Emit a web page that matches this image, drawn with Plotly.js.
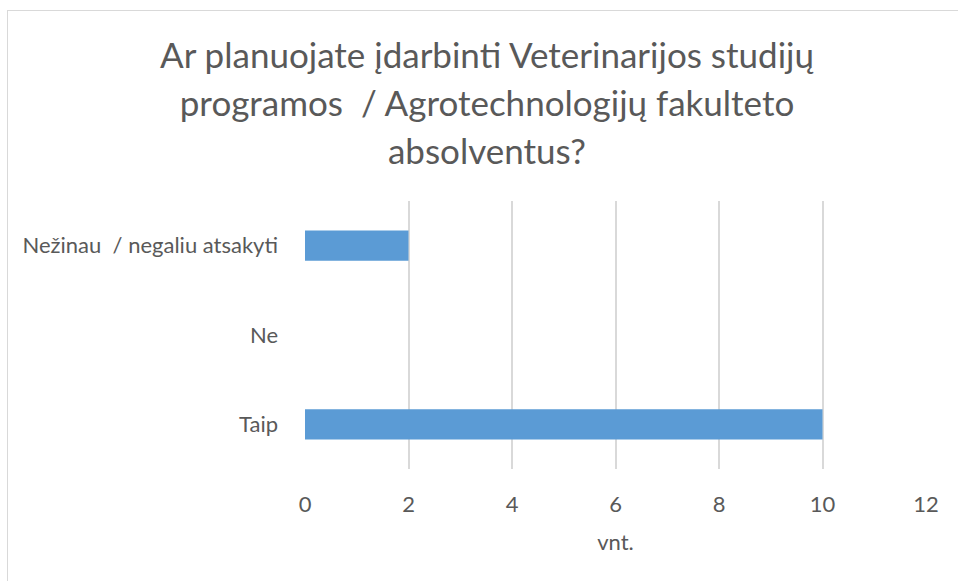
<!DOCTYPE html>
<html>
<head>
<meta charset="utf-8">
<script src="https://cdn.plot.ly/plotly-3.0.1.min.js"></script>
<style>
    body { margin: 0; background: #fff; }
    #frame {
        position: absolute; left: 7px; top: 10px; width: 1000px; height: 620px;
        border-left: 1px solid #d9d9d9; border-top: 1px solid #d9d9d9;
    }
    #chart { position: absolute; left: 0; top: 0; width: 958px; height: 581px; }
</style>
</head>
<body>
<div id="frame"></div>
<div id="chart"></div>

<script>
    // survey answers (count of respondents)
    var categories = ['Taip', 'Ne', 'Nežinau  / negaliu atsakyti'];
    var values = [10, 0, 2];
    var tickValues = [0, 2, 4, 6, 8, 10, 12];
    var titleLines = [
        'Ar planuojate įdarbinti Veterinarijos studijų',
        'programos  / Agrotechnologijų fakulteto',
        'absolventus?'
    ];

    function createChart() {
        var trace = {
            type: 'bar',
            orientation: 'h',
            y: categories,
            x: values,
            marker: { color: '#5b9bd5' },
            hoverinfo: 'x+y'
        };

        var layout = {
            width: 958,
            height: 581,
            margin: { t: 201, r: 32, b: 112, l: 305 },
            font: { family: 'Lato, "Open Sans", sans-serif', color: '#595959', size: 22 },
            title: {
                text: titleLines.map(l => '<span style="font-size:35px">' + l + '</span>').join('<br>'),
                font: { size: 37, color: '#595959' },
                xref: 'container',
                x: 487 / 958,
                xanchor: 'center',
                yref: 'container',
                y: 1 - 68 / 581,
                yanchor: 'top'
            },
            bargap: 0.66,
            showlegend: false,
            xaxis: {
                range: [0, 12],
                tickmode: 'array',
                tickvals: tickValues,
                showgrid: true,
                gridcolor: '#d9d9d9',
                gridwidth: 1.5,
                zeroline: false,
                showline: false,
                ticks: '',
                ticklabelstandoff: 20,
                title: { text: 'vnt.', standoff: 18, font: { size: 22 } }
            },
            yaxis: {
                showgrid: false,
                zeroline: false,
                showline: false,
                ticks: '',
                ticklabelstandoff: 26
            },
            paper_bgcolor: 'rgba(0,0,0,0)',
            plot_bgcolor: 'rgba(0,0,0,0)'
        };

        Plotly.newPlot('chart', [trace], layout, { displayModeBar: false, responsive: false });
    }

    createChart();
</script>
</body>
</html>
